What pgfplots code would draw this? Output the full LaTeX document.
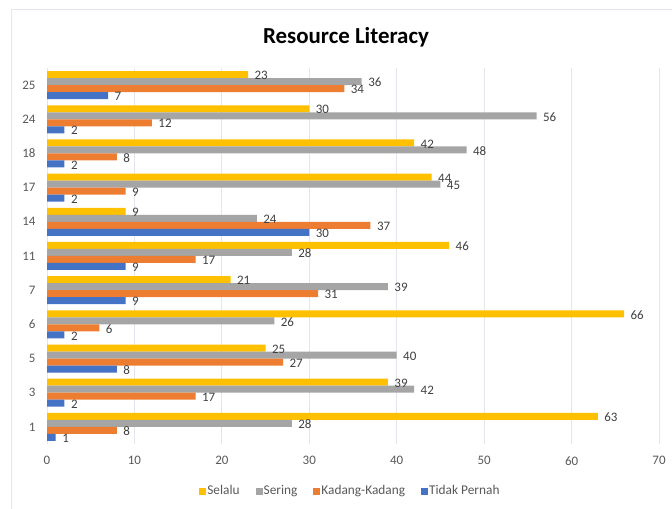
\documentclass[border=0pt]{standalone}
\usepackage{fontspec}
\setmainfont{Carlito}
\usepackage{pgfplots}
\pgfplotsset{compat=1.18}
\definecolor{cSel}{HTML}{FFC000}
\definecolor{cSer}{HTML}{A5A5A5}
\definecolor{cKad}{HTML}{ED7D31}
\definecolor{cTid}{HTML}{4472C4}
\definecolor{txt}{HTML}{404040}
\definecolor{tick}{HTML}{595959}
\definecolor{grd}{HTML}{E3E6EC}
\begin{document}
\begin{tikzpicture}
\useasboundingbox (0,0) rectangle (672bp,509bp);
\fill[white] (0,0) rectangle (672bp,509bp);
\draw[grd, line width=0.8bp] (11bp,-5bp) -- (11bp,500bp) -- (690bp,500bp);
\node[font=\fontsize{23}{26}\selectfont\bfseries, text=black] at (346bp,472bp) {Resource Literacy};
\begin{axis}[
  at={(47bp,65bp)}, anchor=south west,
  scale only axis, width=612bp, height=376bp,
  xmin=0, xmax=70, ymin=-0.5, ymax=10.5,
  xbar, bar width=7bp,
  xtick={0,10,...,70},
  ytick={0,...,10},
  yticklabels={1,3,5,6,7,11,14,17,18,24,25},
  major tick length=0pt,
  axis line style={draw=none},
  xmajorgrids, major grid style={grd, line width=0.8bp},
  /pgf/number format/assume math mode=true,
  ticklabel style={font=\fontsize{13}{15}\selectfont, text=tick},
  xticklabel style={yshift=-9bp},
  yticklabel style={xshift=-8bp},
  nodes near coords,
  nodes near coords style={font=\fontsize{13}{15}\selectfont, text=txt, anchor=west, xshift=3bp, yshift=-1bp},
  every node near coord/.append style={/pgf/number format/assume math mode=true},
  legend columns=4,
  legend style={at={(0.495,-0.125)}, anchor=center, draw=none, fill=none,
    font=\fontsize{13.4}{15}\selectfont, text=tick,
    nodes={inner sep=1bp},
    /tikz/every even column/.append style={column sep=15bp}},
  legend image code/.code={\fill[#1] (0bp,-3.5bp) rectangle (7bp,3.5bp);},
]
\addplot[fill=cSel, draw=none, bar shift=10.5bp] coordinates {
(63,0) (39,1) (25,2) (66,3) (21,4) (46,5) (9,6) (44,7) (42,8) (30,9) (23,10)};
\addlegendentry{Selalu}
\addplot[fill=cSer, draw=none, bar shift=3.5bp] coordinates {
(28,0) (42,1) (40,2) (26,3) (39,4) (28,5) (24,6) (45,7) (48,8) (56,9) (36,10)};
\addlegendentry{Sering}
\addplot[fill=cKad, draw=none, bar shift=-3.5bp] coordinates {
(8,0) (17,1) (27,2) (6,3) (31,4) (17,5) (37,6) (9,7) (8,8) (12,9) (34,10)};
\addlegendentry{Kadang-Kadang}
\addplot[fill=cTid, draw=none, bar shift=-10.5bp] coordinates {
(1,0) (2,1) (8,2) (2,3) (9,4) (9,5) (30,6) (2,7) (2,8) (2,9) (7,10)};
\addlegendentry{Tidak Pernah}
\end{axis}
\end{tikzpicture}
\end{document}
